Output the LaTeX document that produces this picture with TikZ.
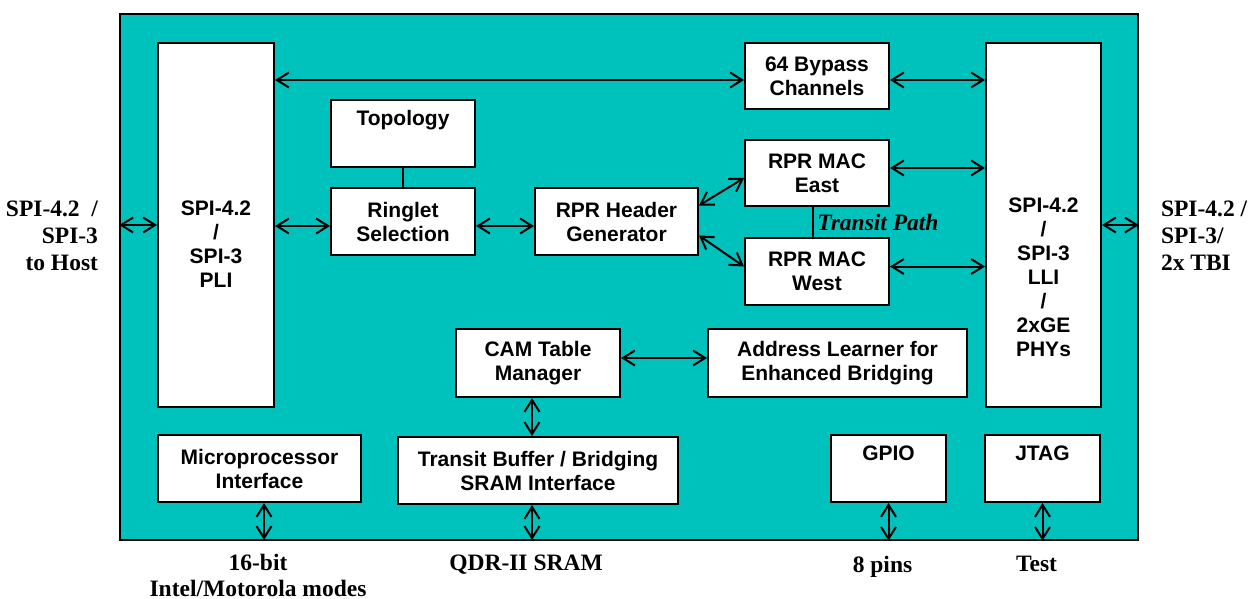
\documentclass[tikz,border=0pt]{standalone}
\usepackage{fontspec}
\setmainfont{Liberation Serif}
\setsansfont{Liberation Sans}
\usepackage{xcolor}
\usepackage{tikz}
\usetikzlibrary{arrows.meta,positioning}
\definecolor{chipteal}{RGB}{0,194,188}
\newcommand\blockfont{\sffamily\bfseries\fontsize{21}{24}\selectfont}
\newcommand\portfont{\rmfamily\bfseries\fontsize{23.5}{27}\selectfont}

\begin{document}
\begin{tikzpicture}[x=1pt,y=-1pt,<->,>={Straight Barb[length=12pt,width=15pt]},
  line width=2pt,
  chip/.style={draw,line width=1.5pt,fill=chipteal,inner sep=0pt},
  block/.style={draw,fill=white,font=\blockfont,align=center,inner sep=0pt,
    minimum height=67pt},
  blocktext/.style={font=\blockfont,align=center,inner sep=0pt,anchor=north},
  port/.style={font=\portfont,inner sep=0pt},
  transit/.style={font=\portfont\itshape}]
  \useasboundingbox (0,0) rectangle (1254,599);
  \node[chip, minimum width=1018pt, minimum height=526pt] (chip) at (629,277) {};
  \node[block, minimum width=116pt, minimum height=364pt] (pli) at (216,225) {};
  \node[blocktext] (plitext) at ([yshift=-158pt]pli.north) {SPI-4.2\\/\\SPI-3\\PLI};
  \node[block, minimum width=115pt, minimum height=364pt] (lli) at (1043.5,225) {};
  \node[blocktext] (llitext) at ([yshift=-155pt]lli.north) {SPI-4.2\\/\\SPI-3\\LLI\\/\\2xGE\\PHYs};
  \node[block, minimum width=144pt] (topo) at (403,133.5) {Topology\\\strut};
  \node[block, minimum width=144pt] (ring) [below=19pt of topo] {Ringlet\\Selection};
  \node[block, minimum width=163pt] (head) [right=58pt of ring] {RPR Header\\Generator};
  \node[block, minimum width=144pt, minimum height=66pt] (bypass) at (817,76) {64 Bypass\\Channels};
  \node[block, minimum width=144pt, minimum height=66pt] (east) [below=29pt of bypass] {RPR MAC\\East};
  \node[block, minimum width=144pt] (west) [below=30pt of east] {RPR MAC\\West};
  \node[block, minimum width=164pt, minimum height=68pt] (cam) at (538,363) {CAM Table\\Manager};
  \node[block, minimum width=259pt, minimum height=68pt] (addr) [right=86pt of cam] {Address Learner for\\Enhanced Bridging};
  \node[block, minimum width=280pt] (sram) [below=38pt of cam] {Transit Buffer / Bridging\\SRAM Interface};
  \node[block, minimum width=203pt] (micro) at (259.5,468.5) {Microprocessor\\Interface};
  \node[block, minimum width=115pt] (gpio) at (888.5,468.5) {GPIO\\\strut};
  \node[block, minimum width=115pt] (jtag) at (1042.5,468.5) {JTAG\\\strut};
  \coordinate (upbus) at (264,540);
  \coordinate (qdrbus) at (532,540);
  \coordinate (gpiobus) at (gpio.south |- chip.south);
  \coordinate (jtagbus) at (jtag.south |- chip.south);
  \node[port, anchor=east, align=right] (hostlbl) at (99,236) {SPI-4.2\ \ /\\SPI-3\\to Host};
  \node[port, anchor=west, align=left] (linelbl) at (1160,236) {SPI-4.2 /\\SPI-3/\\2x TBI};
  \node[port, align=center, xshift=-6pt, font=\portfont\linespread{0.96}\selectfont] (uplbl) [below=13pt of upbus] {16-bit\\Intel/Motorola modes};
  \node[port, xshift=-6pt] (qdrlbl) [below=14pt of qdrbus] {QDR-II SRAM};
  \node[port, xshift=-6pt] (gpiolbl) [below=14pt of gpiobus] {8 pins};
  \node[port, xshift=-6pt] (jtaglbl) [below=14pt of jtagbus] {Test};
  \path
    (chip.west |- pli) edge (pli.west)
    ([yshift=-4pt]pli.east |- bypass) edge ([yshift=-4pt]bypass.west)
    ([yshift=-4pt]bypass.east) edge ([yshift=-4pt]bypass.east -| lli.west)
    ([yshift=-4.5pt]pli.east |- ring) edge ([yshift=-4.5pt]ring.west)
    ([yshift=-4.5pt]ring.east) edge ([yshift=-4.5pt]head.west)
    (topo) edge[-] (ring)
    ([yshift=16pt]head.east) edge ([yshift=-5pt]east.west)
    ([yshift=-14pt]head.east) edge ([yshift=5pt]west.west)
    ([xshift=-4pt]east.south) edge[-] node[transit, right] {Transit Path} ([xshift=-4pt]west.north)
    ([yshift=5pt]east.east) edge ([yshift=5pt]east.east -| lli.west)
    ([yshift=5pt]west.east) edge ([yshift=5pt]west.east -| lli.west)
    (lli.east) edge (lli.east -| chip.east)
    ([yshift=5pt]cam.east) edge ([yshift=5pt]addr.west)
    (cam.south -| qdrbus) edge (sram.north -| qdrbus)
    (sram.south -| qdrbus) edge (qdrbus)
    (micro.south -| upbus) edge (upbus)
    (gpio.south) edge (gpiobus)
    (jtag.south) edge (jtagbus)
;
\end{tikzpicture}
\end{document}
